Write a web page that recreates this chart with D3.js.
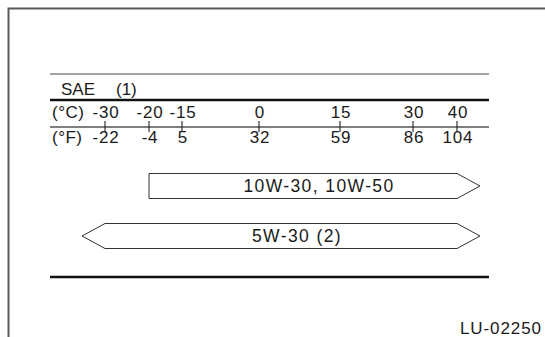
<!DOCTYPE html>
<html>
  <head>
    <script src="https://cdn.jsdelivr.net/npm/d3@7"></script>
    <style>
      body { margin: 0; background: #fff; }
      svg text { font-family: "Liberation Sans", Arial, sans-serif; fill: #1a1a1a; }
    </style>
  </head>
  <body>
    <script>
      // temperature ticks (the chart is not drawn to a linear scale)
      var celsius = [-30, -20, -15, 0, 15, 30, 40];
      var fahrenheit = [-22, -4, 5, 32, 59, 86, 104];

      // oil grades and their temperature ranges
      var grades = ["10W-30, 10W-50", "5W-30 (2)"];
      var gradeFrom = [-20, -30];
      var gradeTo = [40, 40];
      var arrowLow = [false, true];
      var arrowHigh = [true, true];

      var width = 545, height = 337;

      var svg = d3.select("body").append("svg")
          .attr("width", width)
          .attr("height", height);

      // piecewise scale, tick spacing in the original is uneven
      var x = d3.scaleLinear()
          .domain(celsius)
          .range([105, 149, 182, 259, 340, 413, 457]);

      var left = 50, right = 489;

      // outer frame (only top and left edges show)
      svg.append("path")
          .attr("d", "M8.5,337V8.5H545")
          .attr("fill", "none")
          .attr("stroke", "#5a5a5a")
          .attr("stroke-width", 2);

      // header rules
      svg.append("line")
          .attr("x1", left).attr("x2", right)
          .attr("y1", 74).attr("y2", 74)
          .attr("stroke", "#444").attr("stroke-width", 1.2);
      svg.append("line")
          .attr("x1", left).attr("x2", right)
          .attr("y1", 100).attr("y2", 100)
          .attr("stroke", "#111").attr("stroke-width", 2.5);
      svg.append("line")
          .attr("x1", left).attr("x2", right)
          .attr("y1", 127).attr("y2", 127)
          .attr("stroke", "#555").attr("stroke-width", 1.5);
      svg.append("line")
          .attr("x1", left).attr("x2", right)
          .attr("y1", 277).attr("y2", 277)
          .attr("stroke", "#111").attr("stroke-width", 2.5);

      svg.append("text")
          .attr("x", 61).attr("y", 95)
          .style("font-size", "17px")
          .text("SAE");
      svg.append("text")
          .attr("x", 116).attr("y", 95)
          .style("font-size", "17px")
          .text("(1)");

      svg.append("text")
          .attr("x", 52).attr("y", 118)
          .style("font-size", "17px")
          .style("letter-spacing", "0.5px")
          .text("(°C)");
      svg.append("text")
          .attr("x", 52).attr("y", 143)
          .style("font-size", "17px")
          .style("letter-spacing", "0.5px")
          .text("(°F)");

      // ticks across the thin rule
      svg.selectAll(".tick")
          .data(celsius)
        .enter().append("line")
          .attr("class", "tick")
          .attr("x1", function(d) { return x(d); })
          .attr("x2", function(d) { return x(d); })
          .attr("y1", 121).attr("y2", 132)
          .attr("stroke", "#333").attr("stroke-width", 1.2);

      svg.selectAll(".c-label")
          .data(celsius)
        .enter().append("text")
          .attr("class", "c-label")
          .attr("x", function(d) { return x(d) + 1; })
          .attr("y", 118)
          .attr("text-anchor", "middle")
          .style("font-size", "17px")
          .style("letter-spacing", "0.8px")
          .text(function(d) { return d; });

      svg.selectAll(".f-label")
          .data(fahrenheit)
        .enter().append("text")
          .attr("class", "f-label")
          .attr("x", function(d, i) { return x(celsius[i]) + 1; })
          .attr("y", 143)
          .attr("text-anchor", "middle")
          .style("font-size", "17px")
          .style("letter-spacing", "0.8px")
          .text(function(d) { return d; });

      // grade arrows
      var head = 23, half = 12.5;
      var rowY = d3.scalePoint().domain(grades).range([186, 236]);

      grades.forEach(function(g, i) {
        var x0 = x(gradeFrom[i]), x1 = x(gradeTo[i]), cy = rowY(g);
        var p = d3.path();
        p.moveTo(x0, cy - half);
        p.lineTo(x1, cy - half);
        if (arrowHigh[i]) { p.lineTo(x1 + head, cy); p.lineTo(x1, cy + half); }
        else p.lineTo(x1, cy + half);
        p.lineTo(x0, cy + half);
        if (arrowLow[i]) { p.lineTo(x0 - head, cy); }
        p.closePath();
        svg.append("path")
            .attr("d", p.toString())
            .attr("fill", "#fff")
            .attr("stroke", "#333")
            .attr("stroke-width", 1);
        svg.append("text")
            .attr("x", (x0 + x1) / 2 + 16)
            .attr("y", cy + 6)
            .attr("text-anchor", "middle")
            .style("font-size", "17.5px")
            .style("letter-spacing", "1.4px")
            .text(g);
      });

      svg.append("text")
          .attr("x", 460).attr("y", 334)
          .style("font-size", "17px")
          .style("letter-spacing", "0.9px")
          .text("LU-02250");
    </script>
  </body>
</html>
